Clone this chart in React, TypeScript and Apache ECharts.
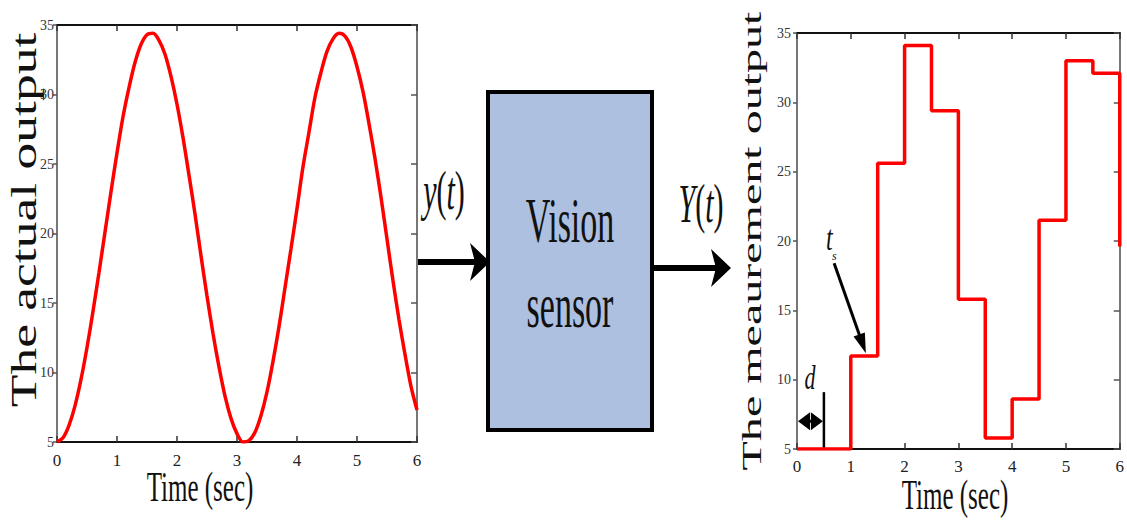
import React, { useEffect, useRef } from "react";
import * as echarts from "echarts";

// Left plot: actual output y(t)
const actualTime = [
  0, 0.1, 0.2, 0.3, 0.4, 0.5, 0.6, 0.7, 0.8, 0.9, 1.0, 1.1, 1.2, 1.3, 1.4, 1.5, 1.6, 1.7, 1.8, 1.9, 2.0,
  2.1, 2.2, 2.3, 2.4, 2.5, 2.6, 2.7, 2.8, 2.9, 3.0, 3.1, 3.2, 3.3, 3.4, 3.5, 3.6, 3.7, 3.8, 3.9, 4.0,
  4.1, 4.2, 4.3, 4.4, 4.5, 4.6, 4.7, 4.8, 4.9, 5.0, 5.1, 5.2, 5.3, 5.4, 5.5, 5.6, 5.7, 5.8, 5.9, 6.0,
];
const actualOutput = [
  5.0, 5.3, 6.2, 7.6, 9.5, 11.8, 14.4, 17.2, 20.1, 23.0, 25.8, 28.4, 30.5, 32.3, 33.6, 34.3, 34.4, 33.9, 32.9, 31.3, 29.3,
  26.9, 24.2, 21.4, 18.4, 15.5, 12.8, 10.4, 8.3, 6.7, 5.6, 5.0, 5.1, 5.7, 6.9, 8.6, 10.8, 13.3, 16.1, 18.9, 21.8,
  24.8, 27.3, 29.8, 31.6, 33.1, 34.0, 34.4, 34.2, 33.4, 32.0, 30.2, 27.9, 25.4, 22.6, 19.6, 16.6, 13.8, 11.3, 9.0, 7.3,
];

// Right plot: measurement output Y(t) (held samples)
const sampleTime = [0, 0.5, 1.0, 1.5, 2.0, 2.5, 3.0, 3.5, 4.0, 4.5, 5.0, 5.5, 6.0];
const measuredOutput = [5.0, 5.0, 11.7, 25.6, 34.1, 29.4, 15.8, 5.8, 8.6, 21.5, 33.0, 32.1, 19.6];

const timeMin = 0;
const timeMax = 6;
const timeStep = 1;
const outMin = 5;
const outMax = 35;
const outStep = 5;

const SERIF = "'Liberation Serif', 'Times New Roman', serif";

function arrowHead(tip: number[], from: number[], len: number, half: number) {
  const dx = tip[0] - from[0];
  const dy = tip[1] - from[1];
  const L = Math.hypot(dx, dy) || 1;
  const ux = dx / L;
  const uy = dy / L;
  const bx = tip[0] - ux * len;
  const by = tip[1] - uy * len;
  const px = -uy * half;
  const py = ux * half;
  return [tip, [bx + px, by + py], [bx - px, by - py]];
}

export default function App() {
  const ref = useRef<HTMLDivElement>(null);

  useEffect(() => {
    const chart = echarts.init(ref.current as HTMLDivElement, null, { renderer: "svg" });

    const xAxisFor = (gi: number, pos: "bottom" | "top", margin: number) => ({
      type: "value",
      gridIndex: gi,
      min: timeMin,
      max: timeMax,
      interval: timeStep,
      position: pos,
      axisLine: { show: true, onZero: false, lineStyle: { color: "#111", width: 2 } },
      axisTick: { show: true, inside: true, length: 6, lineStyle: { color: "#333", width: 1.5 } },
      axisLabel: {
        show: pos === "bottom",
        fontFamily: SERIF,
        fontSize: 17,
        color: "#222",
        margin,
      },
      splitLine: { show: false },
    });

    const yAxisFor = (gi: number, pos: "left" | "right", margin: number) => ({
      type: "value",
      gridIndex: gi,
      min: outMin,
      max: outMax,
      interval: outStep,
      position: pos,
      axisLine: { show: true, onZero: false, lineStyle: { color: "#777", width: 2 } },
      axisTick: {
        show: true,
        inside: pos === "right",
        length: pos === "right" ? 6 : 4,
        lineStyle: { color: "#555", width: 1.5 },
      },
      axisLabel: {
        show: pos === "left",
        fontFamily: SERIF,
        fontSize: 14,
        color: "#333",
        margin,
      },
      splitLine: { show: false },
    });

    chart.setOption({
      animation: false,
      backgroundColor: "#ffffff",
      grid: [
        { left: 57, top: 25, width: 360, height: 417 },
        { left: 797, top: 33, width: 329, height: 416 },
      ],
      xAxis: [
        xAxisFor(0, "bottom", 10),
        xAxisFor(0, "top", 8),
        xAxisFor(1, "bottom", 9),
        xAxisFor(1, "top", 8),
      ],
      yAxis: [
        yAxisFor(0, "left", 3),
        yAxisFor(0, "right", 8),
        yAxisFor(1, "left", 6),
        yAxisFor(1, "right", 8),
      ],
      series: [
        {
          type: "line",
          xAxisIndex: 0,
          yAxisIndex: 0,
          data: actualTime.map((t, i) => [t, actualOutput[i]]),
          smooth: 0.3,
          showSymbol: false,
          z: 5,
          lineStyle: { color: "#ff0000", width: 3.5 },
        },
        {
          type: "line",
          xAxisIndex: 2,
          yAxisIndex: 2,
          data: sampleTime.map((t, i) => [t, measuredOutput[i]]),
          step: "end",
          showSymbol: false,
          z: 5,
          lineStyle: { color: "#ff0000", width: 3.5 },
        },
      ],
    });

    const p = (x: number, y: number) =>
      chart.convertToPixel({ xAxisIndex: 2, yAxisIndex: 2 }, [x, y]) as number[];

    // annotation anchors on the measurement plot
    const dTop = p(0.5, 9.1);
    const dBot = p(0.5, 5);
    const dLeft = p(0, 7);
    const dRight = p(0.5, 7);
    const tsFrom = p(0.69, 18.4);
    const tsTip = p(1.28, 11.9);
    const tsLabel = p(0.6, 20.2);
    const dLabel = p(0.24, 10.1);

    const tsHead = arrowHead(tsTip, tsFrom, 20, 6);
    const tsShaftEnd = [tsTip[0] - (tsTip[0] - tsFrom[0]) * 0.15, tsTip[1] - (tsTip[1] - tsFrom[1]) * 0.15];

    const black = "#000";

    chart.setOption({
      graphic: [
        // axis titles
        {
          type: "text",
          x: 24,
          y: 220,
          rotation: Math.PI / 2,
          scaleX: 1.53,
          style: { text: "The actual output", font: `35px ${SERIF}`, fill: "#111", align: "center", verticalAlign: "middle" },
        },
        {
          type: "text",
          x: 752,
          y: 241,
          rotation: Math.PI / 2,
          scaleX: 1.78,
          style: { text: "The meaurement output", font: `27px ${SERIF}`, fill: "#111", align: "center", verticalAlign: "middle" },
        },
        {
          type: "text",
          x: 200,
          y: 487,
          scaleY: 1.65,
          style: { text: "Time (sec)", font: `25px ${SERIF}`, fill: "#111", align: "center", verticalAlign: "middle" },
        },
        {
          type: "text",
          x: 955,
          y: 495,
          scaleY: 1.65,
          style: { text: "Time (sec)", font: `25px ${SERIF}`, fill: "#111", align: "center", verticalAlign: "middle" },
        },
        // sensor block
        {
          type: "rect",
          shape: { x: 488, y: 92, width: 164, height: 338 },
          style: { fill: "#aec0e0", stroke: "#000", lineWidth: 4 },
        },
        {
          type: "text",
          x: 570,
          y: 221,
          scaleY: 1.85,
          style: { text: "Vision", font: `34px ${SERIF}`, fill: "#111", align: "center", verticalAlign: "middle" },
        },
        {
          type: "text",
          x: 570,
          y: 306,
          scaleY: 1.85,
          style: { text: "sensor", font: `34px ${SERIF}`, fill: "#111", align: "center", verticalAlign: "middle" },
        },
        // input arrow
        { type: "line", shape: { x1: 417, y1: 262, x2: 478, y2: 262 }, style: { stroke: black, lineWidth: 6 } },
        { type: "polygon", shape: { points: [[490, 262], [470, 243], [475, 262], [470, 281]] }, style: { fill: black } },
        {
          type: "text",
          x: 444,
          y: 190,
          scaleY: 1.85,
          style: {
            text: "{i|y}{n|(}{i|t}{n|)}",
            align: "center",
            verticalAlign: "middle",
            rich: {
              i: { fontFamily: SERIF, fontSize: 30, fontStyle: "italic", fill: "#111" },
              n: { fontFamily: SERIF, fontSize: 30, fill: "#111" },
            },
          },
        },
        // output arrow
        { type: "line", shape: { x1: 652, y1: 268, x2: 718, y2: 268 }, style: { stroke: black, lineWidth: 6 } },
        { type: "polygon", shape: { points: [[731, 268], [711, 249], [716, 268], [711, 287]] }, style: { fill: black } },
        {
          type: "text",
          x: 701,
          y: 203,
          scaleY: 1.85,
          style: {
            text: "{i|Y}{n|(}{i|t}{n|)}",
            align: "center",
            verticalAlign: "middle",
            rich: {
              i: { fontFamily: SERIF, fontSize: 30, fontStyle: "italic", fill: "#111" },
              n: { fontFamily: SERIF, fontSize: 30, fill: "#111" },
            },
          },
        },
        // t_s annotation
        {
          type: "text",
          x: tsLabel[0],
          y: tsLabel[1],
          scaleY: 1.5,
          style: { text: "t", font: `italic 24px ${SERIF}`, fill: "#111", align: "center", verticalAlign: "middle" },
        },
        {
          type: "text",
          x: tsLabel[0] + 5,
          y: tsLabel[1] + 18,
          style: { text: "s", font: `italic 12px ${SERIF}`, fill: "#111", align: "center", verticalAlign: "middle" },
        },
        {
          type: "line",
          shape: { x1: tsFrom[0], y1: tsFrom[1], x2: tsShaftEnd[0], y2: tsShaftEnd[1] },
          style: { stroke: black, lineWidth: 3 },
        },
        { type: "polygon", shape: { points: tsHead }, style: { fill: black } },
        // d annotation
        {
          type: "text",
          x: dLabel[0],
          y: dLabel[1],
          scaleY: 1.5,
          style: { text: "d", font: `italic 22px ${SERIF}`, fill: "#111", align: "center", verticalAlign: "middle" },
        },
        {
          type: "line",
          shape: { x1: dTop[0], y1: dTop[1], x2: dBot[0], y2: dBot[1] },
          style: { stroke: black, lineWidth: 2.5 },
        },
        {
          type: "line",
          shape: { x1: dLeft[0] + 8, y1: dLeft[1], x2: dRight[0] - 8, y2: dRight[1] },
          style: { stroke: black, lineWidth: 3 },
        },
        {
          type: "polygon",
          shape: { points: [[dLeft[0] + 1, dLeft[1]], [dLeft[0] + 13, dLeft[1] - 9], [dLeft[0] + 13, dLeft[1] + 9]] },
          style: { fill: black },
        },
        {
          type: "polygon",
          shape: { points: [[dRight[0] - 1, dRight[1]], [dRight[0] - 13, dRight[1] - 9], [dRight[0] - 13, dRight[1] + 9]] },
          style: { fill: black },
        },
      ],
    });

    return () => {
      chart.dispose();
    };
  }, []);

  return (
    <div
      ref={ref}
      style={{ position: "fixed", left: 0, top: 0, width: 1127, height: 527, background: "#fff" }}
    />
  );
}
